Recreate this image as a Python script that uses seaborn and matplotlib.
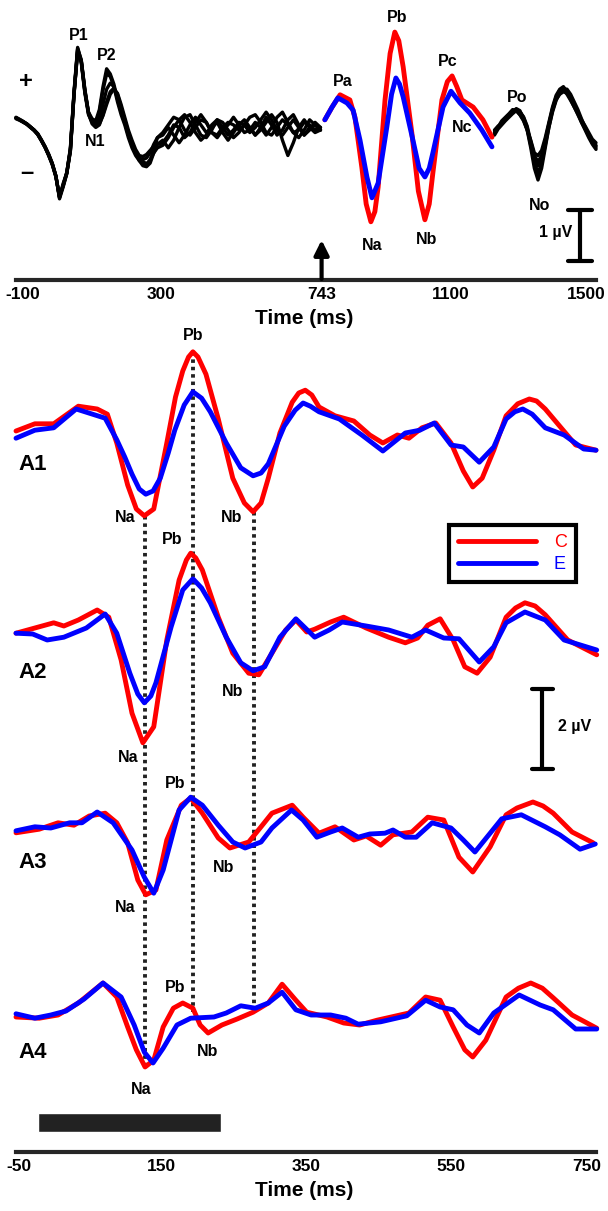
import numpy as np
import pandas as pd
import matplotlib
matplotlib.use("Agg")
import matplotlib.pyplot as plt
from matplotlib.lines import Line2D
from matplotlib.transforms import ScaledTranslation
import seaborn as sns

# ---------------- top panel: long epoch ----------------
top_ticks = [-100, 300, 743, 1100, 1500]
early_t = np.arange(-100, 291, 10)
noise_t = np.arange(305, 741, 15)
late_t = np.arange(1220, 1501, 10)

black_early = [
    [0.24,0.20,0.16,0.12,0.06,0.00,-0.08,-0.20,-0.33,-0.48,-0.66,-0.90,-1.33,-1.05,-0.85,-0.35,0.75,1.62,1.35,0.75,0.35,0.22,0.18,0.40,0.85,1.20,1.10,0.90,0.60,0.35,0.15,-0.10,-0.30,-0.45,-0.55,-0.62,-0.66,-0.60,-0.40,-0.15],
    [0.22,0.19,0.15,0.11,0.05,-0.01,-0.09,-0.21,-0.34,-0.50,-0.68,-0.92,-1.30,-1.08,-0.83,-0.38,0.72,1.58,1.32,0.72,0.30,0.15,0.12,0.35,0.78,1.10,1.05,0.85,0.55,0.30,0.10,-0.15,-0.35,-0.50,-0.60,-0.66,-0.68,-0.58,-0.45,-0.35],
    [0.25,0.21,0.17,0.12,0.06,0.00,-0.07,-0.19,-0.32,-0.47,-0.65,-0.90,-1.35,-1.12,-0.86,-0.42,0.68,1.60,1.38,0.78,0.32,0.12,0.05,0.10,0.30,0.55,0.75,0.82,0.70,0.45,0.20,-0.05,-0.25,-0.45,-0.60,-0.70,-0.72,-0.65,-0.45,-0.28],
    [0.23,0.20,0.16,0.12,0.06,0.00,-0.08,-0.20,-0.33,-0.49,-0.67,-0.91,-1.32,-1.09,-0.84,-0.40,0.70,1.55,1.35,0.76,0.33,0.18,0.10,0.22,0.50,0.80,0.92,0.85,0.62,0.38,0.15,-0.08,-0.28,-0.45,-0.55,-0.58,-0.55,-0.45,-0.28,-0.15],
    [0.24,0.20,0.16,0.11,0.05,-0.01,-0.09,-0.21,-0.34,-0.49,-0.66,-0.90,-1.31,-1.10,-0.85,-0.40,0.70,1.52,1.36,0.80,0.35,0.15,0.08,0.12,0.28,0.50,0.70,0.80,0.72,0.50,0.25,0.00,-0.20,-0.38,-0.50,-0.52,-0.48,-0.40,-0.32,-0.28],
]
black_noise = [
    [-0.05,0.10,0.25,0.20,0.00,-0.10,0.05,0.20,0.15,-0.05,-0.10,0.05,0.15,0.10,0.00,0.10,0.25,0.30,0.15,-0.05,-0.10,0.05,0.20,0.10,-0.05,0.00,0.15,0.10,0.00,0.05],
    [-0.30,-0.15,0.05,0.20,0.30,0.15,-0.05,-0.20,-0.10,0.10,0.20,0.05,-0.10,0.00,0.15,0.10,-0.05,0.05,0.20,0.35,0.20,0.00,-0.10,0.05,0.20,0.05,-0.10,0.05,0.10,0.00],
    [-0.20,-0.35,-0.20,0.05,0.25,0.30,0.10,-0.10,-0.15,0.00,0.20,0.15,0.00,-0.15,-0.05,0.10,0.05,-0.10,0.00,0.15,0.30,0.15,-0.20,-0.50,-0.25,0.05,0.20,0.05,-0.05,0.00],
    [-0.10,0.05,-0.10,-0.25,-0.10,0.10,0.25,0.10,-0.05,0.05,0.15,-0.05,-0.20,-0.05,0.10,0.20,0.05,-0.10,0.05,0.25,0.10,-0.10,0.00,0.20,0.30,0.10,-0.10,0.00,0.15,0.05],
    [-0.25,-0.10,0.10,0.05,-0.15,-0.05,0.15,0.30,0.15,-0.05,-0.15,0.00,0.10,0.25,0.10,-0.05,0.00,0.15,0.05,-0.10,0.05,0.25,0.35,0.15,-0.05,-0.15,0.00,0.20,0.10,0.00],
]
black_late = [
    [-0.05,0.05,0.15,0.22,0.30,0.38,0.40,0.35,0.25,0.05,-0.25,-0.55,-0.70,-0.55,-0.25,0.10,0.40,0.62,0.75,0.82,0.78,0.65,0.50,0.35,0.18,0.05,-0.10,-0.22,-0.30],
    [0.00,0.08,0.12,0.20,0.28,0.35,0.42,0.38,0.22,0.00,-0.35,-0.75,-0.98,-0.75,-0.35,0.05,0.35,0.58,0.72,0.80,0.80,0.70,0.55,0.40,0.22,0.05,-0.12,-0.25,-0.35],
    [-0.10,0.02,0.10,0.18,0.25,0.32,0.38,0.30,0.18,0.00,-0.20,-0.45,-0.50,-0.40,-0.15,0.15,0.45,0.68,0.80,0.85,0.75,0.60,0.45,0.30,0.15,0.00,-0.15,-0.28,-0.38],
    [-0.05,0.06,0.18,0.25,0.32,0.40,0.38,0.30,0.20,0.02,-0.30,-0.62,-0.85,-0.65,-0.30,0.05,0.38,0.60,0.70,0.75,0.72,0.62,0.48,0.32,0.15,0.02,-0.12,-0.25,-0.32],
    [-0.02,0.05,0.14,0.22,0.30,0.36,0.40,0.36,0.26,0.08,-0.22,-0.50,-0.62,-0.50,-0.20,0.12,0.42,0.65,0.78,0.80,0.70,0.58,0.45,0.32,0.20,0.08,-0.05,-0.18,-0.25],
]

top_c_t = [752,772,794,821,835,854,866,879,890,899,918,932,945,956,968,992,1010,1028,1040,1050,1075,1090,1103,1116,1130,1161,1188,1213]
top_c_v = [0.20,0.45,0.69,0.59,0.25,-0.73,-1.45,-1.80,-1.60,-1.12,0.59,1.50,1.92,1.75,1.24,-0.06,-1.20,-1.76,-1.45,-0.84,0.59,0.95,1.06,0.85,0.59,0.45,0.20,-0.14]
top_e_t = [752,772,788,813,830,849,868,882,899,923,936,948,958,968,995,1012,1028,1040,1050,1078,1100,1125,1152,1185,1213]
top_e_v = [0.20,0.45,0.63,0.53,0.39,-0.20,-0.92,-1.33,-1.04,0.06,0.70,1.02,0.90,0.65,-0.20,-0.75,-0.92,-0.75,-0.45,0.45,0.76,0.53,0.33,0.00,-0.33]

# ---------------- bottom panels: A1..A4 ----------------
bot_ticks = [-50, 150, 350, 550, 750]
panels = ["A1", "A2", "A3", "A4"]

a1_c_t = [-50,-24,2,36,62,76,89,104,116,127,140,158,170,180,188,194,201,212,229,249,265,277,288,298,314,331,340,349,358,368,390,416,438,456,476,492,510,529,550,567,580,593,609,626,642,658,668,680,700,722,750]
a1_c_v = [0.10,0.28,0.28,0.72,0.65,0.52,-0.20,-1.25,-1.85,-2.02,-1.85,-0.20,0.95,1.60,1.95,2.08,1.95,1.52,0.40,-1.08,-1.70,-1.92,-1.70,-1.08,0.05,0.82,1.05,1.12,1.00,0.70,0.48,0.35,0.00,-0.20,0.00,-0.08,0.18,0.30,-0.20,-0.90,-1.30,-1.08,-0.38,0.48,0.78,0.90,0.85,0.65,0.22,-0.25,-0.38]
a1_e_t = [-50,-24,2,33,73,89,100,110,120,129,139,149,160,169,182,194,206,218,240,260,277,288,298,320,335,346,356,368,396,427,456,487,507,527,550,567,589,609,626,638,649,662,680,706,733,750]
a1_e_v = [-0.08,0.12,0.18,0.65,0.42,-0.12,-0.55,-0.98,-1.35,-1.48,-1.40,-1.08,-0.45,0.12,0.75,1.08,0.92,0.58,-0.20,-0.82,-1.02,-0.95,-0.72,0.22,0.62,0.80,0.72,0.58,0.40,0.00,-0.40,0.05,0.12,0.30,-0.25,-0.30,-0.68,-0.30,0.40,0.58,0.65,0.52,0.18,0.00,-0.35,-0.38]

a2_c_t = [-50,-18,2,16,36,62,78,95,110,125,140,158,175,185,191,198,207,229,249,271,285,303,322,336,351,362,384,402,433,464,487,504,518,535,553,569,586,604,626,639,652,666,680,711,751]
a2_c_v = [0.02,0.18,0.28,0.20,0.35,0.60,0.42,-0.65,-1.98,-2.72,-2.32,-0.15,1.35,1.85,2.02,1.90,1.60,0.42,-0.48,-0.98,-1.02,-0.48,0.10,0.35,0.05,0.12,0.30,0.42,0.15,-0.08,-0.22,-0.10,0.22,0.38,-0.15,-0.82,-0.98,-0.58,0.42,0.65,0.78,0.70,0.48,-0.15,-0.52]
a2_e_t = [-50,-27,-7,16,47,73,89,107,118,127,136,143,164,180,194,206,218,240,260,277,293,314,336,362,382,400,433,464,496,515,540,561,589,609,626,652,680,706,751]
a2_e_v = [0.02,0.00,-0.15,-0.08,0.15,0.50,0.02,-0.98,-1.50,-1.72,-1.55,-1.22,0.18,1.10,1.38,1.15,0.78,-0.08,-0.72,-0.92,-0.82,-0.08,0.38,-0.08,0.10,0.30,0.20,0.10,-0.08,0.10,-0.10,-0.12,-0.70,-0.32,0.28,0.55,0.35,-0.15,-0.40]

a3_c_t = [-50,-18,8,30,51,73,89,104,118,129,143,158,178,191,207,229,245,271,288,303,331,346,368,390,416,433,453,470,496,518,540,561,580,604,626,641,663,677,691,717,746]
a3_c_v = [-0.07,0.02,0.18,0.12,0.35,0.42,0.18,-0.32,-1.25,-1.62,-1.50,-0.25,0.62,0.80,0.42,-0.20,-0.45,-0.30,0.08,0.42,0.62,0.32,-0.08,0.08,-0.25,-0.15,-0.38,-0.12,-0.05,0.32,0.25,-0.68,-1.05,-0.42,0.38,0.55,0.70,0.60,0.42,-0.05,-0.32]
a3_e_t = [-50,-24,-2,24,41,62,84,110,127,140,153,175,191,207,229,249,266,288,303,330,346,365,384,400,422,438,459,470,487,502,524,550,567,583,604,620,647,680,700,728,749]
a3_e_v = [-0.02,0.08,0.05,0.18,0.18,0.45,0.18,-0.50,-1.18,-1.58,-1.00,0.50,0.82,0.62,0.12,-0.30,-0.45,-0.30,0.05,0.50,0.25,-0.18,-0.05,0.05,-0.18,-0.10,-0.08,0.00,-0.18,-0.18,0.18,0.05,-0.25,-0.55,-0.08,0.28,0.38,0.08,-0.12,-0.48,-0.35]

a4_c_t = [-50,-18,8,36,70,89,104,116,128,140,153,167,180,194,204,215,234,255,277,298,317,336,351,379,402,424,448,492,515,535,553,569,580,598,626,643,660,676,691,717,751]
a4_c_v = [0.00,-0.03,0.05,0.35,0.85,0.50,-0.25,-0.82,-1.25,-1.08,-0.25,0.22,0.35,0.22,-0.20,-0.40,-0.20,-0.05,0.12,0.35,0.82,0.42,0.12,0.00,-0.15,-0.20,-0.08,0.10,0.50,0.42,-0.25,-0.82,-1.00,-0.58,0.50,0.72,0.85,0.72,0.48,0.05,-0.28]
a4_e_t = [-50,-24,-2,19,44,70,95,113,127,139,153,172,191,223,240,260,280,298,317,336,357,384,405,422,453,489,515,535,553,572,589,609,644,673,691,722,751]
a4_e_v = [0.08,-0.03,0.05,0.15,0.45,0.85,0.50,-0.20,-0.88,-1.15,-0.78,-0.20,-0.03,0.00,0.10,0.28,0.22,0.35,0.62,0.18,0.05,0.05,-0.03,-0.18,-0.12,0.03,0.42,0.25,0.18,-0.20,-0.40,0.10,0.55,0.30,0.18,-0.30,-0.30]

peak_times = {"Na": 128, "Pb": 194, "Nb": 278}
stim_on, stim_off = -20, 233

# ---------------- layout (pixels of the 608x1211 canvas) ----------------
W, H = 608, 1211
fig = plt.figure(figsize=(W / 100, H / 100), dpi=100)
sns.set_style("white")
plt.rcParams["font.family"] = ["Liberation Sans", "DejaVu Sans"]
plt.rcParams["font.weight"] = "bold"
plt.rcParams["text.color"] = "black"
plt.rcParams["axes.labelcolor"] = "black"
plt.rcParams["xtick.color"] = "black"

# top axis: px_x = 16 + (t+100)*0.3625 ; px_y = 130 - v*51
def tx(px): return -100 + (px - 16) / 0.3625
def ty(py): return (130 - py) / 51.0
# bottom axis: px_x = 16 + (t+50)*0.725 ; px_y = 435 - v*40
def bx(px): return -50 + (px - 16) / 0.725
def by(py): return (435 - py) / 40.0

top_axis_px = 280
bot_axis_px = 1152
ax_top = fig.add_axes([0, 1 - top_axis_px / H, 1, top_axis_px / H])
ax_top.set_xlim(tx(0), tx(W))
ax_top.set_ylim(ty(top_axis_px), ty(0))
ax_bot = fig.add_axes([0, 1 - bot_axis_px / H, 1, (bot_axis_px - 330) / H])
ax_bot.set_xlim(bx(0), bx(W))
ax_bot.set_ylim(by(bot_axis_px), by(330))

offsets = [0, by(634), by(830), by(1017)]
red, blue = "#ff0000", "#0000ff"
pal = {"C": red, "E": blue}
line_kw = dict(solid_joinstyle="round", solid_capstyle="round")

# ---- top black traces
rows = []
for i in range(len(black_early)):
    for t, v in zip(list(early_t) + list(noise_t), black_early[i] + black_noise[i]):
        rows.append((t, v, f"a{i}"))
    for t, v in zip(late_t, black_late[i]):
        rows.append((t, v, f"b{i}"))
df_black = pd.DataFrame(rows, columns=["t", "v", "trace"])
sns.lineplot(data=df_black, x="t", y="v", units="trace", estimator=None,
             color="black", lw=2.4, sort=False, ax=ax_top, **line_kw)

df_top = pd.concat([
    pd.DataFrame({"t": top_c_t, "v": top_c_v, "cond": "C"}),
    pd.DataFrame({"t": top_e_t, "v": top_e_v, "cond": "E"}),
])
sns.lineplot(data=df_top, x="t", y="v", hue="cond", palette=pal, estimator=None,
             sort=False, lw=3.5, legend=False, ax=ax_top, **line_kw)

# ---- bottom panels
series = [(a1_c_t, a1_c_v, a1_e_t, a1_e_v), (a2_c_t, a2_c_v, a2_e_t, a2_e_v),
          (a3_c_t, a3_c_v, a3_e_t, a3_e_v), (a4_c_t, a4_c_v, a4_e_t, a4_e_v)]

# dotted latency lines
dot_kw = dict(color="#222222", lw=2.8, ls=(0, (0.9, 1.0)), zorder=1)
ax_bot.plot([peak_times["Na"]] * 2, [min(a1_c_v), offsets[3] + min(a4_c_v)], **dot_kw)
ax_bot.plot([peak_times["Pb"]] * 2, [max(a1_c_v), by(1012)], **dot_kw)
ax_bot.plot([peak_times["Nb"]] * 2, [a1_c_v[a1_c_t.index(277)], by(1007)], **dot_kw)

for (ct, cv, et, ev), off in zip(series, offsets):
    df = pd.concat([
        pd.DataFrame({"t": ct, "v": np.array(cv) + off, "cond": "C"}),
        pd.DataFrame({"t": et, "v": np.array(ev) + off, "cond": "E"}),
    ])
    sns.lineplot(data=df, x="t", y="v", hue="cond", palette=pal, estimator=None,
                 sort=False, lw=3.5, legend=False, ax=ax_bot, **line_kw)

# stimulus bar
ax_bot.barh(y=(by(1113) + by(1132)) / 2, width=stim_off - stim_on, left=stim_on,
            height=by(1113) - by(1132), color="#222222")

# ---- axes styling
for ax, ticks, shifts in [(ax_top, top_ticks, (7, -10)), (ax_bot, bot_ticks, (3, -9))]:
    ax.patch.set_alpha(0)
    for s in ["left", "right", "top"]:
        ax.spines[s].set_visible(False)
    ax.spines["bottom"].set_bounds(ticks[0], ticks[-1])
    ax.spines["bottom"].set_linewidth(3)
    ax.spines["bottom"].set_capstyle("projecting")
    ax.set_xticks(ticks)
    ax.set_xticklabels([str(t) for t in ticks])
    ax.tick_params(axis="x", direction="in", length=9.5, width=3, pad=5,
                   labelsize=12.5, color="black", labelcolor="black")
    ax.set_yticks([])
    ax.set_ylabel("")
    ax.set_xlabel("Time (ms)", fontsize=15, fontweight="bold", labelpad=5)
    labs = ax.get_xticklabels()
    for lab in labs:
        lab.set_fontweight("bold")
    labs[0].set_transform(labs[0].get_transform() + ScaledTranslation(shifts[0] / 100, 0, fig.dpi_scale_trans))
    labs[-1].set_transform(labs[-1].get_transform() + ScaledTranslation(shifts[1] / 100, 0, fig.dpi_scale_trans))

# ---- top annotations
lab_kw = dict(fontsize=11.5, fontweight="bold", ha="center", va="center")
for name, x, y in [("P1", 79, 35), ("P2", 107, 55), ("N1", 95, 142), ("Pa", 343, 82),
                   ("Pb", 397, 18), ("Pc", 448, 62), ("Nc", 462, 127), ("Po", 517, 97),
                   ("No", 540, 205), ("Na", 372, 245), ("Nb", 427, 240)]:
    ax_top.text(tx(x), ty(y), name, **lab_kw)
ax_top.text(tx(26), ty(81), "+", fontsize=17, fontweight="bold", ha="center", va="center")
ax_top.text(tx(27), ty(172), "–", fontsize=17, fontweight="bold", ha="center", va="center")
ax_top.annotate("", xy=(743, ty(240)), xytext=(743, ty(279)),
                arrowprops=dict(arrowstyle="-|>", lw=3, color="black",
                                mutation_scale=22, shrinkA=0, shrinkB=0))
# 1 uV scale bar
sx = tx(580)
ax_top.plot([sx, sx], [ty(210), ty(210) - 1], color="black", lw=3)
for yy in [ty(210), ty(210) - 1]:
    ax_top.plot([tx(568), tx(592)], [yy, yy], color="black", lw=3)
ax_top.text(tx(572), ty(232), "1 µV", fontsize=11.5, fontweight="bold", ha="right", va="center")

# ---- bottom annotations
for name, y in zip(panels, [465, 672, 862, 1053]):
    ax_bot.text(bx(18), by(y), name, fontsize=16, fontweight="bold", ha="left", va="center")
for name, x, y in [("Pb", 193, 335), ("Na", 125, 518), ("Nb", 232, 517),
                   ("Pb", 172, 540), ("Nb", 233, 692), ("Na", 128, 757),
                   ("Pb", 175, 783), ("Nb", 224, 867), ("Na", 125, 908),
                   ("Pb", 175, 988), ("Nb", 208, 1052), ("Na", 141, 1090)]:
    ax_bot.text(bx(x), by(y), name, **lab_kw)

# 2 uV scale bar
sx = bx(542)
ax_bot.plot([sx, sx], [by(689), by(689) - 2], color="black", lw=3)
for yy in [by(689), by(689) - 2]:
    ax_bot.plot([bx(532), bx(553)], [yy, yy], color="black", lw=3)
ax_bot.text(bx(558), by(727), "2 µV", fontsize=11.5, fontweight="bold", ha="left", va="center")

# legend
handles = [Line2D([], [], color=red, lw=3.5), Line2D([], [], color=blue, lw=3.5)]
leg = ax_bot.legend(handles, ["C", "E"], loc="upper left",
                    bbox_to_anchor=(449 / W, 1 - 525 / H), bbox_transform=fig.transFigure,
                    borderaxespad=0, frameon=True, fancybox=False, framealpha=1,
                    handlelength=4.3, handletextpad=1.0, borderpad=0.5, labelspacing=0.3,
                    prop={"size": 13, "weight": "normal"})
leg.get_frame().set_edgecolor("black")
leg.get_frame().set_linewidth(3)
for txt, c in zip(leg.get_texts(), [red, blue]):
    txt.set_color(c)

fig.savefig("out.png", dpi=100)
